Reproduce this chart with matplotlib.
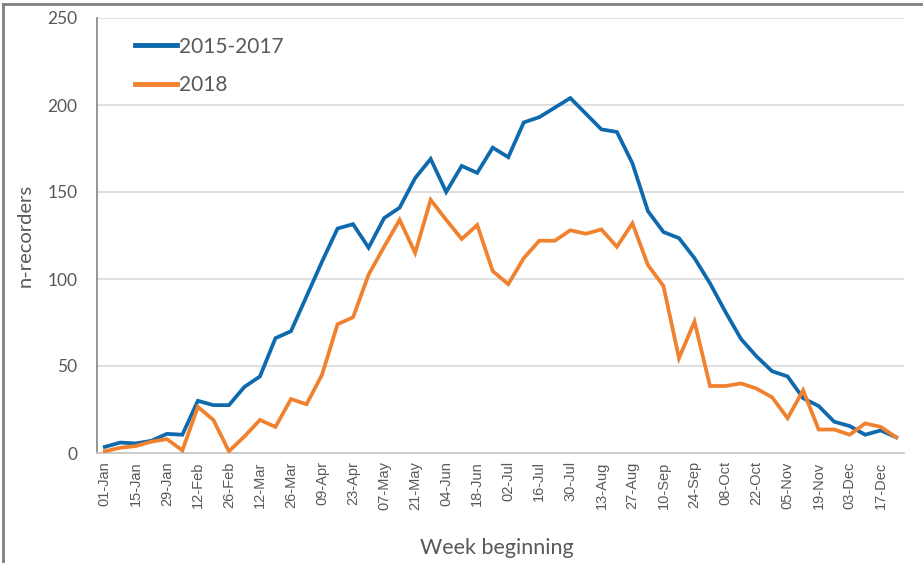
import matplotlib.pyplot as plt
from matplotlib.lines import Line2D

weeks = ["01-Jan", "08-Jan", "15-Jan", "22-Jan", "29-Jan", "05-Feb", "12-Feb", "19-Feb",
         "26-Feb", "05-Mar", "12-Mar", "19-Mar", "26-Mar", "02-Apr", "09-Apr", "16-Apr",
         "23-Apr", "30-Apr", "07-May", "14-May", "21-May", "28-May", "04-Jun", "11-Jun",
         "18-Jun", "25-Jun", "02-Jul", "09-Jul", "16-Jul", "23-Jul", "30-Jul", "06-Aug",
         "13-Aug", "20-Aug", "27-Aug", "03-Sep", "10-Sep", "17-Sep", "24-Sep", "01-Oct",
         "08-Oct", "15-Oct", "22-Oct", "29-Oct", "05-Nov", "12-Nov", "19-Nov", "26-Nov",
         "03-Dec", "10-Dec", "17-Dec", "24-Dec"]

avg_2015_2017 = [3.5, 6, 5.5, 7, 11, 10.5, 30, 27.5, 27.5, 38, 44, 66, 70, 90, 110, 129,
                 131.5, 118, 135, 141, 158, 169, 150, 165, 161, 175.5, 170, 190, 193, 198.5,
                 204, 195, 186, 184.5, 166.5, 139, 127, 123.5, 112, 97.5, 81, 65.5, 55.5,
                 47, 44, 31.5, 27, 18, 15.5, 10.5, 13, 9]

y2018 = [1, 3, 4, 6.5, 8, 1.5, 26.5, 19, 1, 9.5, 19, 15, 31, 28, 45, 74, 78, 102.5, 118.5,
         134, 115, 145.5, 134, 123, 131, 104.5, 97, 112, 122, 122, 128, 126, 128.5, 118.5,
         132, 108, 96, 54.5, 75.5, 38.5, 38.5, 40, 37, 32, 20, 36, 13.5, 13.5, 10.5, 17,
         15, 9]

BLUE = "#0f69ad"
ORANGE = "#f0822f"
GREY_TXT = "#595959"

fig = plt.figure(figsize=(9.23, 5.63), dpi=100)
ax = fig.add_axes([97 / 923, 1 - 453 / 563, (904 - 97) / 923, (453 - 18) / 563])

x = list(range(len(weeks)))
ax.plot(x, avg_2015_2017, color=BLUE, linewidth=2.7, solid_joinstyle="miter", zorder=3)
ax.plot(x, y2018, color=ORANGE, linewidth=2.7, solid_joinstyle="miter", zorder=3)

ax.set_xlim(-0.5, len(weeks) - 0.5)
ax.set_ylim(0, 250)
ax.set_yticks([0, 50, 100, 150, 200, 250])
ax.grid(axis="y", color="#d9d9d9", linewidth=1.2)
ax.set_axisbelow(True)

ax.set_xticks(x[::2])
ax.set_xticklabels(weeks[::2], rotation=90, fontsize=10.5, color=GREY_TXT,
                   family="Liberation Sans")
for lab in ax.get_yticklabels():
    lab.set_family("Lato")
ax.tick_params(axis="y", labelsize=12.5, colors=GREY_TXT, length=0, pad=14)
ax.tick_params(axis="x", length=0, pad=6)

for s in ["top", "right"]:
    ax.spines[s].set_visible(False)
ax.spines["left"].set_color("#8c8c8c")
ax.spines["left"].set_linewidth(1.3)
ax.spines["bottom"].set_color("#c8c8c8")
ax.spines["bottom"].set_linewidth(1.3)

ax.set_ylabel("n-recorders", fontsize=14.5, color=GREY_TXT, family="Lato", labelpad=10)
fig.text(497 / 923, 1 - 548 / 563, "Week beginning", fontsize=15.5, color=GREY_TXT,
         family="Lato", ha="center", va="center")

handles = [Line2D([], [], color=BLUE, linewidth=3.5),
           Line2D([], [], color=ORANGE, linewidth=3.5)]
ax.legend(handles, ["2015-2017", "2018"], loc="upper left", bbox_to_anchor=(0.024, 1.0),
          frameon=False, handlelength=2.0, handletextpad=0.1,
          labelspacing=0.9, labelcolor=GREY_TXT, prop={"family": "Lato", "size": 15})

# outer frame (top and left edges only are visible in the reference)
fig.add_artist(Line2D([3 / 923, 3 / 923], [0, 1 - 4 / 563], transform=fig.transFigure,
                      color="#7f7f7f", linewidth=2))
fig.add_artist(Line2D([3 / 923, 1], [1 - 4 / 563, 1 - 4 / 563], transform=fig.transFigure,
                      color="#7f7f7f", linewidth=2))

fig.savefig("out.png", dpi=100)
